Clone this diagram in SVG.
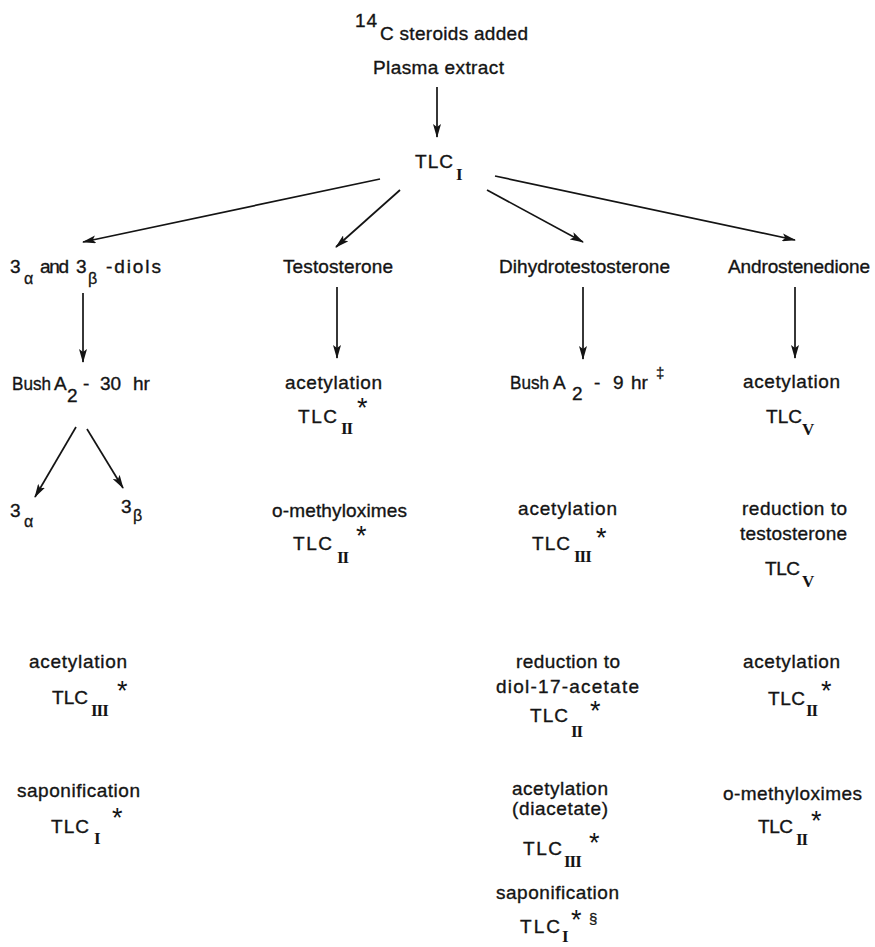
<svg xmlns="http://www.w3.org/2000/svg" width="875" height="947" viewBox="0 0 875 947">
<style>
  .t { font-family: "Liberation Sans", Arial, sans-serif; font-size: 19px; fill: #141414; stroke: #141414; stroke-width: 0.35; }
  .sub { font-family: "Liberation Serif", "Times New Roman", serif; font-weight: bold; font-size: 17px; fill: #141414; }
  .gr { font-family: "Liberation Sans", Arial, sans-serif; font-size: 16px; fill: #141414; stroke: #141414; stroke-width: 0.3; }
  .ast { font-family: "Liberation Sans", Arial, sans-serif; font-size: 27px; fill: #141414; }
  .mk { font-family: "Liberation Sans", Arial, sans-serif; font-size: 15px; fill: #141414; stroke: #141414; stroke-width: 0.3; }
  .c line { stroke: #141414; stroke-width: 1.7; marker-end: url(#ah); }
</style>
<defs>
  <marker id="ah" markerUnits="userSpaceOnUse" markerWidth="14" markerHeight="8" refX="13" refY="4" orient="auto">
    <path d="M0,0 L14,4 L0,8 L3,4 z" fill="#141414"/>
  </marker>
</defs>
<rect width="875" height="947" fill="#ffffff"/>

<g class="c" id="connectors">
  <line x1="437" y1="87" x2="437" y2="137"/>
  <line x1="380" y1="179" x2="83" y2="242"/>
  <line x1="400" y1="190" x2="336" y2="247"/>
  <line x1="487" y1="190" x2="583" y2="242"/>
  <line x1="495" y1="176" x2="795" y2="240"/>
  <line x1="83" y1="293" x2="83" y2="362"/>
  <line x1="337" y1="287" x2="337" y2="358"/>
  <line x1="583" y1="287" x2="583" y2="359"/>
  <line x1="795" y1="287" x2="795" y2="358"/>
  <line x1="76" y1="427" x2="35" y2="497"/>
  <line x1="87" y1="429" x2="123" y2="488"/>
</g>

<g id="steroids-added">
  <text class="t" x="355" y="27" textLength="22">14</text>
  <text class="t" x="380" y="40" textLength="148">C steroids added</text>
</g>
<g id="plasma-extract">
  <text class="t" x="373" y="74" textLength="131">Plasma extract</text>
</g>
<g id="tlc1-top">
  <text class="t" x="415" y="168" textLength="38">TLC</text>
  <text class="sub" x="456" y="180" font-size="22">I</text>
</g>

<g id="diols">
  <text class="t" x="10" y="273">3</text>
  <text class="gr" x="24" y="284">α</text>
  <text class="t" x="40" y="273" textLength="29">and</text>
  <text class="t" x="76" y="273">3</text>
  <text class="gr" x="88" y="284">β</text>
  <text class="t" x="106" y="273" textLength="55">-diols</text>
</g>
<g id="testosterone">
  <text class="t" x="283" y="273" textLength="110">Testosterone</text>
</g>
<g id="dht">
  <text class="t" x="499" y="273" textLength="171">Dihydrotestosterone</text>
</g>
<g id="androstenedione">
  <text class="t" x="728" y="273" textLength="142">Androstenedione</text>
</g>

<g id="bush-30">
  <text class="t" x="12" y="390" textLength="39" lengthAdjust="spacingAndGlyphs">Bush</text>
  <text class="t" x="54" y="390">A</text>
  <text class="t" x="67" y="402">2</text>
  <text class="t" x="83" y="390">-</text>
  <text class="t" x="100" y="390">30</text>
  <text class="t" x="133" y="390">hr</text>
</g>
<g id="three-alpha">
  <text class="t" x="10" y="517">3</text>
  <text class="gr" x="24" y="527">α</text>
</g>
<g id="three-beta">
  <text class="t" x="121" y="513">3</text>
  <text class="gr" x="133" y="521">β</text>
</g>

<g id="t-acetylation">
  <text class="t" x="285" y="389" textLength="97">acetylation</text>
  <text class="t" x="298" y="423" textLength="39">TLC</text>
  <text class="sub" x="341" y="434" letter-spacing="-1">II</text>
  <text class="ast" x="357" y="417">*</text>
</g>
<g id="t-methyloximes">
  <text class="t" x="272" y="517" textLength="135">o-methyloximes</text>
  <text class="t" x="293" y="550" textLength="39">TLC</text>
  <text class="sub" x="337" y="563" letter-spacing="-1">II</text>
  <text class="ast" x="356" y="545">*</text>
</g>

<g id="dht-bush">
  <text class="t" x="510" y="389" textLength="39" lengthAdjust="spacingAndGlyphs">Bush</text>
  <text class="t" x="553" y="389">A</text>
  <text class="t" x="572" y="400">2</text>
  <text class="t" x="594" y="389">-</text>
  <text class="t" x="613" y="389">9</text>
  <text class="t" x="631" y="389">hr</text>
  <text class="mk" x="656" y="378">‡</text>
</g>
<g id="dht-acetylation">
  <text class="t" x="518" y="515" textLength="99">acetylation</text>
  <text class="t" x="532" y="550" textLength="38">TLC</text>
  <text class="sub" x="574" y="562" letter-spacing="-1">III</text>
  <text class="ast" x="596" y="547">*</text>
</g>
<g id="dht-reduction">
  <text class="t" x="516" y="668" textLength="104">reduction to</text>
  <text class="t" x="496" y="693" textLength="143">diol-17-acetate</text>
  <text class="t" x="530" y="722" textLength="38">TLC</text>
  <text class="sub" x="571" y="737" letter-spacing="-1">II</text>
  <text class="ast" x="590" y="720">*</text>
</g>
<g id="dht-diacetate">
  <text class="t" x="512" y="795" textLength="96">acetylation</text>
  <text class="t" x="512" y="815" textLength="96">(diacetate)</text>
  <text class="t" x="523" y="855" textLength="39">TLC</text>
  <text class="sub" x="564" y="867" letter-spacing="-1">III</text>
  <text class="ast" x="589" y="852">*</text>
</g>
<g id="dht-saponification">
  <text class="t" x="496" y="899" textLength="123">saponification</text>
  <text class="t" x="520" y="933" textLength="40">TLC</text>
  <text class="sub" x="562" y="942">I</text>
  <text class="ast" x="571" y="929">*</text>
  <text class="mk" x="589" y="924">§</text>
</g>

<g id="a-acetylation">
  <text class="t" x="743" y="388" textLength="97">acetylation</text>
  <text class="t" x="766" y="423" textLength="36">TLC</text>
  <text class="sub" x="802" y="435" font-size="24">V</text>
</g>
<g id="a-reduction">
  <text class="t" x="742" y="515" textLength="105">reduction to</text>
  <text class="t" x="740" y="540" textLength="107">testosterone</text>
  <text class="t" x="765" y="575" textLength="35">TLC</text>
  <text class="sub" x="802" y="587" font-size="24">V</text>
</g>
<g id="a-acetylation2">
  <text class="t" x="743" y="668" textLength="97">acetylation</text>
  <text class="t" x="768" y="705" textLength="37">TLC</text>
  <text class="sub" x="806" y="716" letter-spacing="-1">II</text>
  <text class="ast" x="821" y="700">*</text>
</g>
<g id="a-methyloximes">
  <text class="t" x="723" y="800" textLength="139">o-methyloximes</text>
  <text class="t" x="758" y="833" textLength="35">TLC</text>
  <text class="sub" x="796" y="845" letter-spacing="-1">II</text>
  <text class="ast" x="811" y="830">*</text>
</g>

<g id="l-acetylation">
  <text class="t" x="29" y="668" textLength="98">acetylation</text>
  <text class="t" x="52" y="704" textLength="36">TLC</text>
  <text class="sub" x="91" y="716" letter-spacing="-1">III</text>
  <text class="ast" x="117" y="700">*</text>
</g>
<g id="l-saponification">
  <text class="t" x="17" y="797" textLength="123">saponification</text>
  <text class="t" x="51" y="833" textLength="38">TLC</text>
  <text class="sub" x="94" y="844">I</text>
  <text class="ast" x="112" y="827">*</text>
</g>
</svg>
